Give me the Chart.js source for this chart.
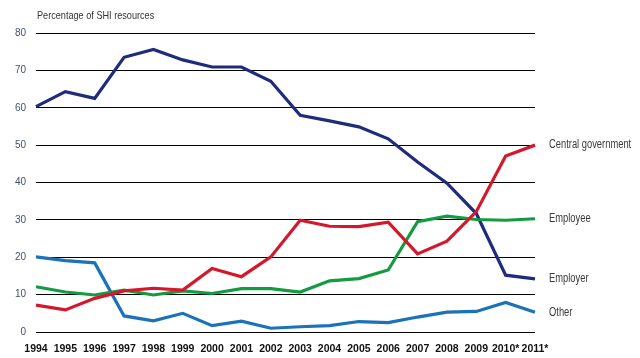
<!DOCTYPE html>
<html><head><meta charset="utf-8">
<script src="https://cdn.jsdelivr.net/npm/chart.js@4/dist/chart.umd.min.js"></script>
<style>html,body{margin:0;padding:0;background:#fff}#wrap{width:640px;height:358px;position:relative}</style>
</head><body><div id="wrap"><canvas id="c"></canvas></div>
<script>
const years = ["1994","1995","1996","1997","1998","1999","2000","2001","2002","2003","2004","2005","2006","2007","2008","2009","2010*","2011*"];
const employer = [60.3,64.3,62.5,73.5,75.6,72.8,70.9,70.9,67.1,58.0,56.5,54.9,51.7,45.5,39.8,31.7,15.2,14.2];
const centralGov = [7.2,5.9,9.0,11.0,11.7,11.2,17.0,14.8,20.1,29.9,28.3,28.2,29.4,20.9,24.3,32.2,47.1,50.0];
const employee = [12.1,10.7,9.9,11.2,9.9,11.0,10.3,11.6,11.6,10.7,13.7,14.3,16.6,29.5,31.0,30.1,29.9,30.3];
const other = [20.1,19.1,18.5,4.3,3.0,5.0,1.7,2.9,1.0,1.4,1.7,2.8,2.5,4.0,5.3,5.5,7.9,5.3];
const seriesNames = ["Central government","Employee","Employer","Other"];
const yTicks = [0,10,20,30,40,50,60,70,80];
const axisTitle = "Percentage of SHI resources";

const FONT = "'Liberation Sans',Arial,sans-serif";

function narrowText(ctx, text, x, y, sx) {
  ctx.save();
  ctx.translate(x, y);
  ctx.scale(sx, 1);
  ctx.fillText(text, 0, 0);
  ctx.restore();
}

const labelPlugin = {
  id: 'endLabels',
  afterDatasetsDraw(chart) {
    const ctx = chart.ctx;
    ctx.save();
    ctx.font = "12px " + FONT;
    ctx.fillStyle = "#3a3a3a";
    ctx.textBaseline = "middle";
    ctx.textAlign = "left";
    chart.data.datasets.forEach((ds, i) => {
      const meta = chart.getDatasetMeta(i);
      const last = meta.data[meta.data.length - 1];
      narrowText(ctx, ds.label, chart.chartArea.right + 14, last.y, 0.78);
    });
    ctx.font = "11px " + FONT;
    ctx.fillStyle = "#333";
    narrowText(ctx, axisTitle, chart.chartArea.left + 1, 16, 0.83);
    ctx.restore();
  }
};

new Chart(document.getElementById('c'), {
  type: 'line',
  data: {
    labels: years,
    datasets: [
      {label: seriesNames[0], data: centralGov, borderColor: '#d5172b'},
      {label: seriesNames[1], data: employee, borderColor: '#149a41'},
      {label: seriesNames[2], data: employer, borderColor: '#1f2c7c'},
      {label: seriesNames[3], data: other, borderColor: '#1a72b9'}
    ].map(d => Object.assign(d, {borderWidth: 3.2, pointRadius: 0, tension: 0, fill: false}))
  },
  options: {
    responsive: true, maintainAspectRatio: false, animation: false,
    layout: {padding: {top: 33, right: 105, bottom: 0, left: 0}},
    plugins: {legend: {display: false}, tooltip: {enabled: false}},
    scales: {
      x: {
        offset: false,
        grid: {display: false, drawTicks: false},
        border: {display: false},
        ticks: {padding: 11, maxRotation: 0, autoSkip: false, color: '#111', font: {family: FONT, size: 10.5, weight: 'bold'}},
        afterFit(s) { s.height = 26; }
      },
      y: {
        min: 0, max: 80,
        afterBuildTicks(s) { s.ticks = yTicks.map(v => ({value: v})); },
        grid: {color: '#000', lineWidth: 1, drawTicks: false},
        border: {display: false},
        ticks: {padding: 10, color: '#46506a', font: {family: FONT, size: 10}},
        afterFit(s) { s.width = 36; }
      }
    }
  },
  plugins: [labelPlugin]
});
</script></body></html>
